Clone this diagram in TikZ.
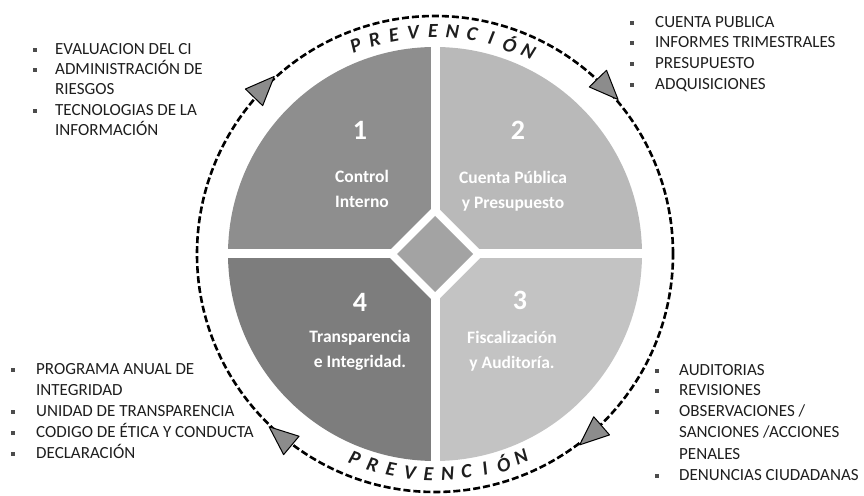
\documentclass[tikz,border=0pt]{standalone}
\usepackage{fontspec}
\setmainfont{Carlito}
\usetikzlibrary{calc}
\definecolor{qone}{HTML}{8E8E8E}
\definecolor{qtwo}{HTML}{B9B9B9}
\definecolor{qthree}{HTML}{C3C3C3}
\definecolor{qfour}{HTML}{7D7D7D}
\definecolor{qmid}{HTML}{A3A3A3}
\definecolor{txt}{HTML}{1E1E1E}
\begin{document}
\begin{tikzpicture}[x=1pt,y=1pt,
  listtext/.style={anchor=mid west, inner sep=0pt, font=\fontsize{17}{20}\selectfont, text=txt},
  bul/.style={fill=black!70, minimum size=4.5pt, inner sep=0pt},
  qlabel/.style={align=center, text=white, font=\fontsize{17.5}{25}\selectfont\bfseries, inner sep=0pt},
  qnum/.style={text=white, font=\fontsize{28}{30}\selectfont\bfseries, inner sep=0pt},
  prev/.style={font=\fontsize{20}{22}\selectfont\bfseries\itshape, inner sep=0pt, text=txt},
  arrowtri/.style={fill=black!45, draw=black, line width=1pt, line join=round},
  ring/.style={draw=black, line width=2.6pt, dash pattern=on 7pt off 3pt}
]
\useasboundingbox (0,0) rectangle (864,495);
\coordinate (C) at (435,241);

% quadrants
\fill[qone] (C) -- ++(90:207) arc[start angle=90, end angle=180, radius=207] -- cycle;
\fill[qtwo] (C) -- ++(0:207) arc[start angle=0, end angle=90, radius=207] -- cycle;
\fill[qthree] (C) -- ++(-90:207) arc[start angle=-90, end angle=0, radius=207] -- cycle;
\fill[qfour] (C) -- ++(180:207) arc[start angle=180, end angle=270, radius=207] -- cycle;
% white cross and centre diamond
\draw[white, line width=9pt] ($(C)+(0,-212)$) -- ($(C)+(0,212)$);
\draw[white, line width=9pt] ($(C)+(-212,0)$) -- ($(C)+(212,0)$);
\fill[white] ($(C)+(0,49)$) -- ($(C)+(49,0)$) -- ($(C)+(0,-49)$) -- ($(C)+(-49,0)$) -- cycle;
\fill[qmid] ($(C)+(0,38)$) -- ($(C)+(38,0)$) -- ($(C)+(0,-38)$) -- ($(C)+(-38,0)$) -- cycle;

% quadrant labels
\node[qnum] (n1) at (360,365) {1};
\node[qlabel] (q1) at (362,306) {Control\\Interno};
\node[qnum] (n2) at (518,365) {2};
\node[qlabel] (q2) at (513,304) {Cuenta Pública\\y Presupuesto};
\node[qnum] (n4) at (360,193) {4};
\node[qlabel] (q4) at (360,145) {Transparencia\\e Integridad.};
\node[qnum] (n3) at (520,195) {3};
\node[qlabel] (q3) at (512,144) {Fiscalización\\y Auditoría.};

% dashed ring
\draw[ring] (C) circle[radius=238];
\foreach \a in {136,44,-49,-130}{
  \begin{scope}[shift={(C)}, rotate=\a]
    \filldraw[arrowtri] (239,-16) -- (251,13) -- (227,13) -- cycle;
  \end{scope}
}

% PREVENCION letters
\foreach \l [count=\i from 0] in {P,R,E,V,E,N,C,I,Ó,N}{
  \pgfmathsetmacro\aa{110.8-\i*5.06}
  \node[prev, rotate=\aa-90] (pt\i) at ($(C)+(\aa:223)$) {\l};
}
\foreach \l [count=\i from 0] in {P,R,E,V,E,N,C,I,Ó,N}{
  \pgfmathsetmacro\aa{-111.4+\i*4.93}
  \node[prev, rotate=\aa+90] (pb\i) at ($(C)+(\aa:220)$) {\l};
}

% top-left list
\node[bul] (b11) at (35,445) {};
\node[listtext] (t11) at (55,443) {EVALUACION DEL CI};
\node[bul] (b12) at (35,425) {};
\node[listtext] (t12) at (55,423) {ADMINISTRACIÓN DE};
\node[listtext] (t13) at (55,403) {RIESGOS};
\node[bul] (b14) at (35,384) {};
\node[listtext] (t14) at (55,382) {TECNOLOGIAS DE LA};
\node[listtext] (t15) at (55,362) {INFORMACIÓN};

% top-right list
\node[bul] (b21) at (632,472) {};
\node[listtext] (t21) at (655,470) {CUENTA PUBLICA};
\node[bul] (b22) at (632,452) {};
\node[listtext] (t22) at (655,450) {INFORMES TRIMESTRALES};
\node[bul] (b23) at (632,431) {};
\node[listtext] (t23) at (655,429) {PRESUPUESTO};
\node[bul] (b24) at (632,410) {};
\node[listtext] (t24) at (655,408) {ADQUISICIONES};

% bottom-left list
\node[bul] (b41) at (13,125) {};
\node[listtext] (t41) at (36,123) {PROGRAMA ANUAL DE};
\node[listtext] (t42) at (36,102) {INTEGRIDAD};
\node[bul] (b43) at (13,83) {};
\node[listtext] (t43) at (36,81) {UNIDAD DE TRANSPARENCIA};
\node[bul] (b44) at (13,62) {};
\node[listtext] (t44) at (36,60) {CODIGO DE ÉTICA Y CONDUCTA};
\node[bul] (b45) at (13,41) {};
\node[listtext] (t45) at (36,39) {DECLARACIÓN};

% bottom-right list
\node[bul] (b31) at (657,124) {};
\node[listtext] (t31) at (679,122) {AUDITORIAS};
\node[bul] (b32) at (657,104) {};
\node[listtext] (t32) at (679,102) {REVISIONES};
\node[bul] (b33) at (657,83) {};
\node[listtext] (t33) at (679,81) {OBSERVACIONES /};
\node[listtext] (t34) at (679,60) {SANCIONES /ACCIONES};
\node[listtext] (t35) at (679,38) {PENALES};
\node[bul] (b36) at (657,19) {};
\node[listtext] (t36) at (679,17) {DENUNCIAS CIUDADANAS};
\end{tikzpicture}
\end{document}
